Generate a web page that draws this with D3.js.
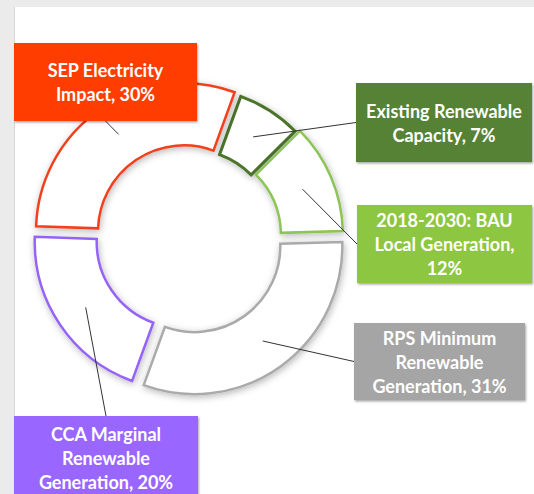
<!DOCTYPE html>
<html>
<head>
<meta charset="utf-8">
<script src="https://cdn.jsdelivr.net/npm/d3@7/dist/d3.min.js"></script>
<style>
  html, body { margin: 0; padding: 0; background: #ebebeb; }
  svg { display: block; }
  text { font-family: Lato, "Open Sans", sans-serif; font-weight: 700; }
</style>
</head>
<body>
<script>
// ---- data ----
const categories = ["Existing Renewable Capacity", "2018-2030: BAU Local Generation", "RPS Minimum Renewable Generation", "CCA Marginal Renewable Generation", "SEP Electricity Impact"];
const values = [7, 12, 31, 20, 30];
const labelLines = [
  ["Existing Renewable", "Capacity, 7%"],
  ["2018-2030: BAU", "Local Generation,", "12%"],
  ["RPS Minimum", "Renewable", "Generation, 31%"],
  ["CCA Marginal", "Renewable", "Generation, 20%"],
  ["SEP Electricity", "Impact, 30%"]
];

// ---- styles / layout ----
const boxColors = ["#548235", "#8dc63f", "#a5a5a5", "#9966ff", "#ff3d00"];
const strokeColors = ["#4b7429", "#8cc454", "#aaaaaa", "#9563f7", "#f2411c"];
const strokeWidths = [3, 2.5, 2.5, 2.5, 2.5];
const explode = [3, 7, 10, 7, 8];
// label boxes: x, y, w, h, anchor side
const boxes = [
  { x: 356, y: 83, w: 176, h: 79, side: "left" },
  { x: 357, y: 205, w: 175, h: 78, side: "left" },
  { x: 354, y: 323, w: 171, h: 77, side: "left" },
  { x: 14, y: 416, w: 184, h: 84, side: "top" },
  { x: 14, y: 43, w: 183, h: 78, side: "bottom" }
];

const W = 534, H = 494;
const cx = 188.5, cy = 238, R = 148, r = 86;
const startAngle = 20 * Math.PI / 180;

const svg = d3.select("body").append("svg").attr("width", W).attr("height", H);
const defs = svg.append("defs");
const f1 = defs.append("filter").attr("id", "sliceShadow").attr("x", "-30%").attr("y", "-30%").attr("width", "160%").attr("height", "160%");
f1.append("feDropShadow").attr("dx", 1).attr("dy", 2).attr("stdDeviation", 3.5).attr("flood-color", "#000").attr("flood-opacity", 0.28);
const f2 = defs.append("filter").attr("id", "boxShadow").attr("x", "-10%").attr("y", "-10%").attr("width", "120%").attr("height", "130%");
f2.append("feDropShadow").attr("dx", 1).attr("dy", 1.5).attr("stdDeviation", 1.2).attr("flood-color", "#000").attr("flood-opacity", 0.35);

// panel
svg.append("rect").attr("x", 14).attr("y", 7).attr("width", W - 14).attr("height", H - 7).attr("fill", "#ffffff");
svg.append("line").attr("x1", 14.5).attr("x2", 14.5).attr("y1", 7).attr("y2", H).attr("stroke", "#d6d6d6").attr("stroke-width", 1);

const pie = d3.pie().sort(null).value(d => d).startAngle(startAngle).endAngle(startAngle + 2 * Math.PI);
const arcs = pie(values);
const arc = d3.arc().innerRadius(r).outerRadius(R);

const g = svg.append("g").attr("transform", `translate(${cx},${cy})`);

function offset(d, i) {
  const a = (d.startAngle + d.endAngle) / 2;
  return [Math.sin(a) * explode[i], -Math.cos(a) * explode[i]];
}

g.selectAll("path.slice").data(arcs).enter().append("path")
  .attr("class", "slice")
  .attr("d", arc)
  .attr("transform", (d, i) => { const o = offset(d, i); return `translate(${o[0]},${o[1]})`; })
  .attr("fill", "#ffffff")
  .attr("stroke", (d, i) => strokeColors[i])
  .attr("stroke-width", (d, i) => strokeWidths[i])
  .attr("stroke-linejoin", "miter")
  .attr("filter", "url(#sliceShadow)");

// leader lines
function anchor(b) {
  if (b.side === "left") return [b.x, b.y + b.h / 2];
  if (b.side === "top") return [b.x + b.w / 2, b.y];
  return [b.x + b.w / 2, b.y + b.h];
}
svg.selectAll("line.leader").data(arcs).enter().append("line")
  .attr("class", "leader")
  .each(function (d, i) {
    const c = arc.centroid(d);
    const o = offset(d, i);
    const a = anchor(boxes[i]);
    d3.select(this)
      .attr("x1", cx + c[0] + o[0]).attr("y1", cy + c[1] + o[1])
      .attr("x2", a[0]).attr("y2", a[1]);
  })
  .attr("stroke", "#333333").attr("stroke-width", 1);

// label boxes
const lg = svg.selectAll("g.label").data(boxes).enter().append("g").attr("class", "label");
lg.append("rect")
  .attr("x", d => d.x).attr("y", d => d.y).attr("width", d => d.w).attr("height", d => d.h)
  .attr("fill", (d, i) => boxColors[i])
  .attr("filter", "url(#boxShadow)");
const lineH = 24;
lg.each(function (b, i) {
  const lines = labelLines[i];
  const n = lines.length;
  const mid = b.side === "top" ? b.y + 42 : b.y + b.h / 2;
  d3.select(this).selectAll("text").data(lines).enter().append("text")
    .attr("x", b.x + b.w / 2)
    .attr("y", (t, j) => mid + (j - (n - 1) / 2) * lineH + 7)
    .attr("text-anchor", "middle")
    .attr("fill", "#ffffff")
    .attr("font-size", 18)
    .text(t => t);
});
</script>
</body>
</html>
